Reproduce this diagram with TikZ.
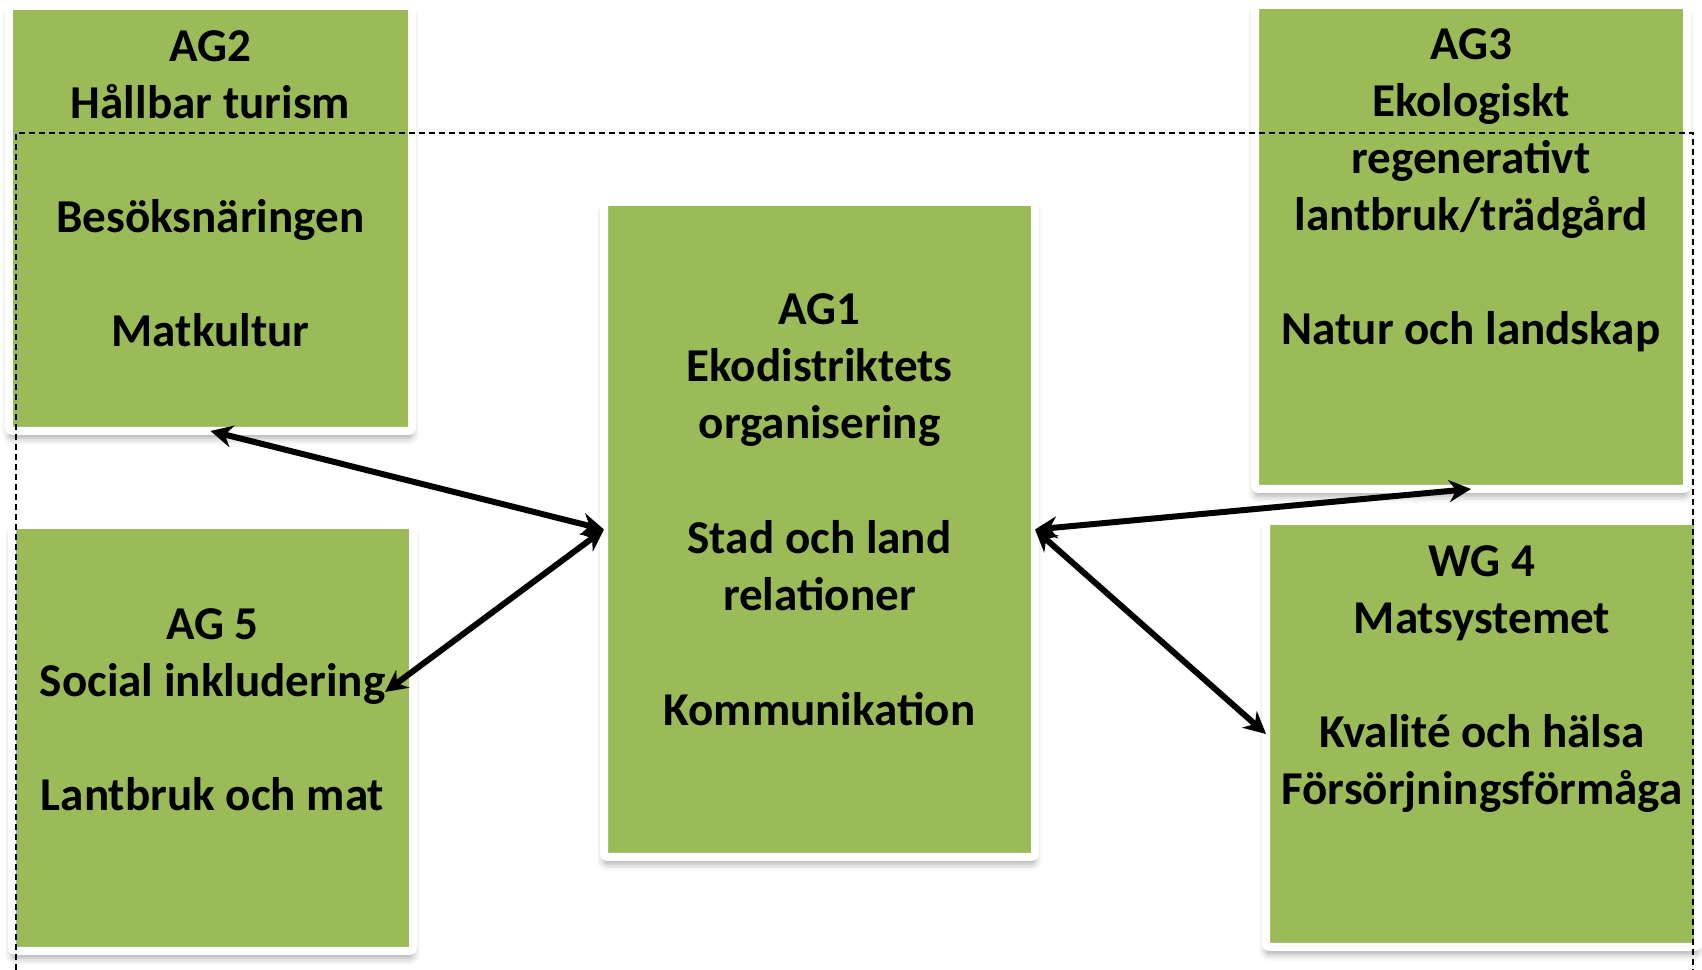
\documentclass[tikz,border=0pt]{standalone}
\usepackage{fontspec}
\setmainfont{Carlito}
\usetikzlibrary{positioning}
\usetikzlibrary{shadows.blur}
\usetikzlibrary{arrows.meta}
\definecolor{agGreen}{HTML}{9BBB59}
\tikzstyle{agBox} = [rectangle, fill=agGreen, draw=white, line width=0.08cm, outer sep=0pt, rounded corners=1pt, blur shadow={shadow xshift=0cm, shadow yshift=-0.07cm, shadow blur radius=0.07cm, shadow opacity=35}]
\tikzstyle{agText} = [align=center, inner sep=0pt, font=\fontsize{13.4}{16.2}\selectfont\bfseries]
\tikzstyle{link} = [{Stealth[length=0.22cm,width=0.22cm]}-{Stealth[length=0.22cm,width=0.22cm]}, line width=0.06cm, black]
\tikzstyle{groupFrame} = [dash pattern=on 0.06cm off 0.04cm, line width=0.6pt, black]

\begin{document}
\begin{tikzpicture}
\useasboundingbox (0,0) rectangle (17.02,9.70);

% Define nodes
\node[agBox, minimum width=4.31cm, minimum height=6.55cm] (ag1) at (8.195,4.405) {};
\node[agBox, minimum width=4.03cm, minimum height=4.25cm] (ag2) at (2.105,7.515) {};
\node[agBox, minimum width=4.32cm, minimum height=4.84cm] (ag3) at (14.71,7.23)  {};
\node[agBox, minimum width=4.01cm, minimum height=4.26cm] (ag5) at (2.125,2.32)  {};
\node[agBox, minimum width=4.32cm, minimum height=4.26cm] (wg4) at (14.82,2.36)  {};

% Texts
\node[agText, below = 0.91cm of ag1.north] (ag1txt) {AG1\\Ekodistriktets\\organisering\\[0.58cm]Stad och land\\relationer\\[0.58cm]Kommunikation};
\node[agText, below = 0.24cm of ag2.north] (ag2txt) {AG2\\Hållbar turism\\[0.57cm]Besöksnäringen\\[0.57cm]Matkultur};
\node[agText, below = 0.23cm of ag3.north] (ag3txt) {AG3\\Ekologiskt\\regenerativt\\lantbruk/trädgård\\[0.57cm]Natur och landskap};
\node[agText, below = 0.83cm of ag5.north] (ag5txt) {AG 5\\Social inkludering\\[0.57cm]Lantbruk och mat};
\node[agText, below = 0.24cm of wg4.north] (wg4txt) {WG 4\\Matsystemet\\[0.57cm]Kvalité och hälsa\\Försörjningsförmåga};

% Frame
\draw[groupFrame] (0.16,0) |- (16.93,8.37) -- (16.93,0);

% Edges
\draw[link] (ag2.south) -- (ag1.west);
\draw[link] ([xshift=-0.28cm, yshift=0.46cm]ag5.east) -- (ag1.west);
\draw[link] (ag1.east) -- (ag3.south);
\draw[link] (ag1.east) -- (wg4.west);
\end{tikzpicture}
\end{document}
